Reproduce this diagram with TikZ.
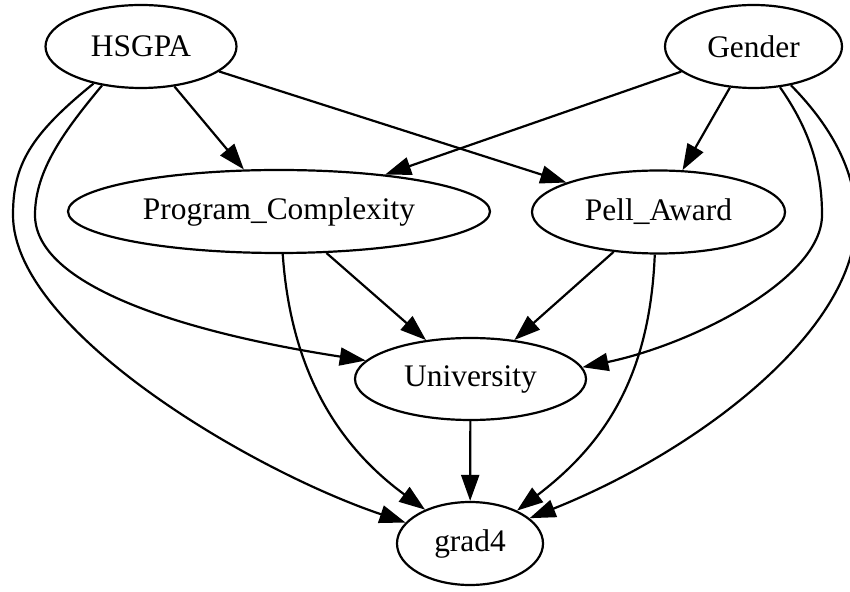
\documentclass[tikz,border=0pt]{standalone}
\usepackage{fontspec}
\setmainfont{Liberation Serif}
\usetikzlibrary{shapes.geometric,arrows.meta}
\begin{document}
\begin{tikzpicture}[x=0.5pt,y=-0.5pt,
  nd/.style={draw,ellipse,line width=1.1pt,inner sep=0pt,minimum height=41.5pt,font=\fontsize{15.7}{18}\selectfont},
  arr/.style={line width=1.1pt,-{Triangle[length=13pt,width=9pt]}}]
\useasboundingbox (0,0) rectangle (850,592);
\node[nd,minimum width=95.5pt] (H) at (141,46.5) {HSGPA};
\node[nd,minimum width=88.5pt] (G) at (753.5,46.5) {Gender};
\node[nd,minimum width=211pt] (PC) at (279,211.5) {Program\_Complexity};
\node[nd,minimum width=126.5pt] (PA) at (658.5,212) {Pell\_Award};
\node[nd,minimum width=115.5pt,minimum height=41pt] (U) at (470.5,379) {University};
\node[nd,minimum width=73pt] (g4) at (470,543.5) {grad4};
\draw[arr] (H) -- (PC);
\draw[arr] (H) -- (PA);
\draw[arr] (G) -- (PC);
\draw[arr] (G) -- (PA);
\draw[arr] (PC) -- (U);
\draw[arr] (PA) -- (U);
\draw[arr] (U) -- (g4);
\draw[arr] (H.225) .. controls (65,130) and (35,170) .. (35,215) .. controls (35,290) and (200,335) .. (U.170);
\draw[arr] (H.218) .. controls (30,135) and (13,165) .. (13,215) .. controls (13,330) and (250,470) .. (g4.162);
\draw[arr] (G.303) .. controls (810,130) and (822,170) .. (822,215) .. controls (822,280) and (690,345) .. (U.6);
\draw[arr] (G.314) .. controls (835,130) and (856,175) .. (856,220) .. controls (856,330) and (700,450) .. (g4.23);
\draw[arr] (PC.275) .. controls (290,360) and (330,440) .. (g4.143);
\draw[arr] (PA.265) .. controls (650,370) and (610,440) .. (g4.35);
\end{tikzpicture}
\end{document}
